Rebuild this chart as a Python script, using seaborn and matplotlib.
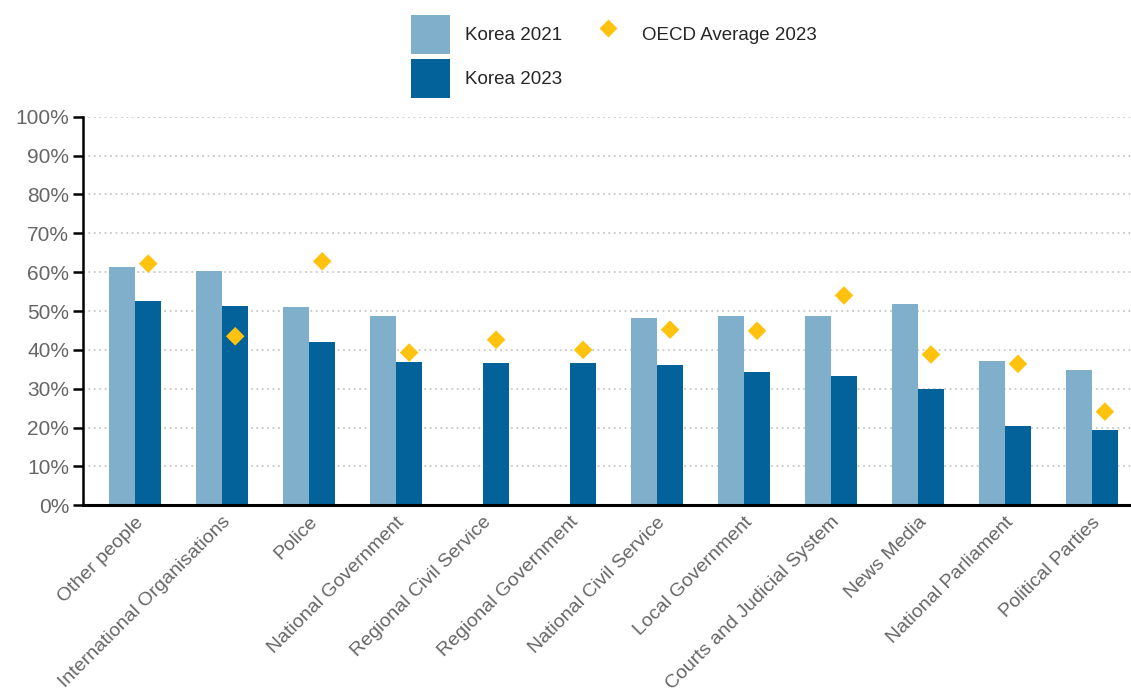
import numpy as np
import pandas as pd
import matplotlib
matplotlib.use("Agg")
import matplotlib.pyplot as plt
import seaborn as sns
from matplotlib.patches import Patch
from matplotlib.lines import Line2D
from matplotlib.ticker import FuncFormatter

categories = ["Other people", "International Organisations", "Police", "National Government",
              "Regional Civil Service", "Regional Government", "National Civil Service",
              "Local Government", "Courts and Judicial System", "News Media",
              "National Parliament", "Political Parties"]
korea_2021 = [61.2, 60.2, 51.1, 48.7, np.nan, np.nan, 48.3, 48.6, 48.7, 51.8, 37.2, 34.8]
korea_2023 = [52.7, 51.4, 41.9, 37.0, 36.7, 36.6, 36.2, 34.4, 33.3, 30.0, 20.4, 19.3]
oecd_2023 = [62.2, 43.5, 62.8, 39.3, 42.6, 40.0, 45.2, 44.9, 54.0, 38.8, 36.4, 24.1]
series_names = ["Korea 2021", "Korea 2023"]
yticks = list(range(0, 101, 10))

c21 = "#80AFCC"
c23 = "#03629A"
coecd = "#FFC20E"
grey = "#666666"

sns.set_style("white")
plt.rcParams["font.family"] = ["Liberation Sans", "DejaVu Sans"]

df = pd.DataFrame({
    "category": categories * 2,
    "series": [series_names[0]] * len(categories) + [series_names[1]] * len(categories),
    "value": korea_2021 + korea_2023,
})

fig = plt.figure(figsize=(11.31, 6.95), dpi=100)
ax = fig.add_axes([0.0734, 0.273, 0.9266, 0.559])

sns.barplot(data=df, x="category", y="value", hue="series", order=categories,
            hue_order=series_names, palette=[c21, c23], width=0.6, dodge=True,
            saturation=1, edgecolor="none", legend=False, ax=ax, errorbar=None)

xpos = np.arange(len(categories)) + 0.15
ax.scatter(xpos, oecd_2023, marker="D", s=90, color=coecd, edgecolor="none", zorder=5)

ax.set_xlim(-0.6, len(categories) - 0.55)
ax.set_ylim(0, 100)
ax.set_yticks(yticks)
ax.yaxis.set_major_formatter(FuncFormatter(lambda v, p: f"{int(v)}%"))
ax.set_xlabel("")
ax.set_ylabel("")

ax.grid(axis="y", linestyle=(0, (1, 2)), color="#c8c8c8", linewidth=1.3)
ax.set_axisbelow(True)
for s in ["top", "right"]:
    ax.spines[s].set_visible(False)
ax.spines["left"].set_color("black")
ax.spines["left"].set_linewidth(1.8)
ax.spines["bottom"].set_color("black")
ax.spines["bottom"].set_linewidth(2.2)

ax.tick_params(axis="y", which="major", direction="out", length=7, width=1.8,
               color="black", labelsize=15, labelcolor=grey, left=True, pad=3)
ax.tick_params(axis="x", length=0, labelsize=14, labelcolor=grey, pad=6)
plt.setp(ax.get_xticklabels(), rotation=45, ha="right", va="top", rotation_mode="anchor")

handles = [
    Patch(facecolor=c21, edgecolor="none", label="Korea 2021"),
    Patch(facecolor=c23, edgecolor="none", label="Korea 2023"),
    Line2D([0], [0], marker="D", linestyle="none", markersize=9.5, color=coecd,
           markeredgecolor="none", label="OECD Average 2023"),
]
fig.legend(handles=handles, ncol=2, loc="upper center", bbox_to_anchor=(0.5425, 0.978),
           frameon=False, fontsize=13.5, handlelength=2.13, handleheight=2.8,
           labelspacing=0.27, columnspacing=1.4, handletextpad=0.75, borderaxespad=0,
           borderpad=0)

fig.savefig("out.png", dpi=100)
